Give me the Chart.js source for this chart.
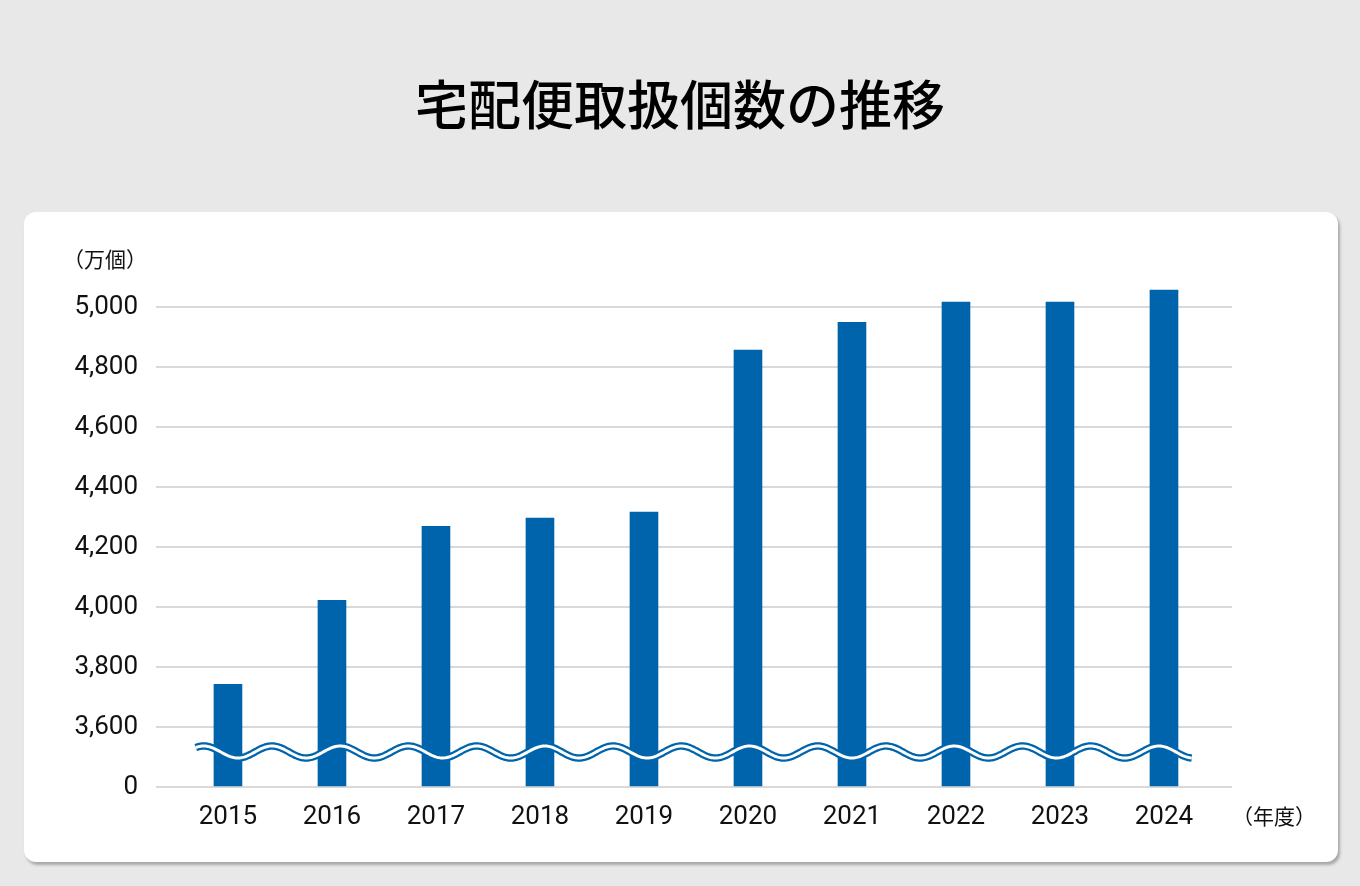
<!DOCTYPE html>
<html lang="ja">
<head>
<meta charset="utf-8">
<title>宅配便取扱個数の推移</title>
<script src="https://cdn.jsdelivr.net/npm/chart.js@4.4.1/dist/chart.umd.min.js"></script>
<style>
  html, body { margin: 0; padding: 0; }
  body {
    width: 1360px; height: 886px; overflow: hidden;
    background: #e8e8e8; position: relative;
    font-family: "Noto Sans CJK JP", "Noto Sans", sans-serif;
  }
  h1 {
    position: absolute; left: 0; width: 1360px; top: 71px; margin: 0;
    text-align: center; font-size: 53px; font-weight: 500; line-height: 62px;
    color: #000;
  }
  .card {
    position: absolute; left: 24px; top: 212px; width: 1314px; height: 650px;
    background: #fff; border-radius: 12px;
    box-shadow: 2px 3px 3px rgba(0, 0, 0, 0.28);
  }
  .card canvas { position: absolute; left: 0; top: 0; }
  .unit {
    position: absolute; font-size: 21px; line-height: 24px; color: #111;
    white-space: nowrap;
  }
</style>
</head>
<body>
<h1>宅配便取扱個数の推移</h1>
<div class="card">
  <canvas id="chart" width="1314" height="650"></canvas>
  <span class="unit" style="left:39px; top:34px;">（万個）</span>
  <span class="unit" style="left:1208px; top:591px;">（年度）</span>
</div>
<script>
// fiscal years and parcels handled (10,000 units)
const years = ['2015', '2016', '2017', '2018', '2019', '2020', '2021', '2022', '2023', '2024'];
const parcels = [3742, 4022, 4269, 4296, 4316, 4856, 4949, 5016, 5016, 5056];

// the axis is broken: the lowest tick stands for 0
const axisMin = 3400;
const axisMax = 5000;
const axisStep = 200;

const BLUE = '#0064ad';

// double wavy line across the bars marking the axis break
const breakLine = {
    id: 'breakLine',
    afterDatasetsDraw(chart) {
        const { ctx, scales: { x, y } } = chart;
        const step = x.getPixelForValue(1) - x.getPixelForValue(0);
        const period = step * 0.656;
        const crest = x.getPixelForValue(0) + step * 0.423;
        const x0 = x.getPixelForValue(-0.31);
        const x1 = x.getPixelForValue(9.27);
        const yc = y.getPixelForValue(axisMin) - 35;
        const amp = 6;

        const path = () => {
            ctx.beginPath();
            for (let px = x0; px <= x1; px += 1) {
                const py = yc - amp * Math.cos(2 * Math.PI * (px - crest) / period);
                if (px === x0) ctx.moveTo(px, py); else ctx.lineTo(px, py);
            }
        };

        ctx.save();
        ctx.lineCap = 'butt';
        path();
        ctx.strokeStyle = BLUE;
        ctx.lineWidth = 7.5;
        ctx.stroke();
        path();
        ctx.strokeStyle = '#fff';
        ctx.lineWidth = 3;
        ctx.stroke();
        ctx.restore();
    }
};

const chart = new Chart(document.getElementById('chart'), {
    type: 'bar',
    data: {
        datasets: [{
            data: parcels.map((v, i) => ({ x: i, y: v })),
            backgroundColor: BLUE,
            barThickness: 28,
            base: axisMin,
            clip: false
        }]
    },
    options: {
        responsive: false,
        animation: false,
        devicePixelRatio: 1,
        layout: { padding: { top: 95, right: 106, bottom: 0, left: 0 } },
        plugins: {
            legend: { display: false },
            tooltip: { enabled: false }
        },
        scales: {
            x: {
                type: 'linear',
                offset: false,
                min: -0.692,
                max: 9.654,
                grid: { display: false },
                border: { display: false },
                afterFit: (scale) => { scale.height = 75; },
                ticks: {
                    stepSize: 1,
                    includeBounds: false,
                    maxRotation: 0,
                    autoSkip: false,
                    padding: 7,
                    color: '#111',
                    font: { family: 'Roboto', size: 26 },
                    callback: (v) => Number.isInteger(v) ? years[v] : ''
                }
            },
            y: {
                min: axisMin,
                max: axisMax,
                grid: { color: '#d9d9d9', lineWidth: 2, drawTicks: false },
                border: { display: false },
                afterFit: (scale) => { scale.width = 132; },
                ticks: {
                    stepSize: axisStep,
                    padding: 18,
                    color: '#111',
                    font: { family: 'Roboto', size: 26 },
                    callback: (v) => v === axisMin ? '0' : v.toLocaleString('en-US')
                }
            }
        }
    },
    plugins: [breakLine]
});
</script>
</body>
</html>
